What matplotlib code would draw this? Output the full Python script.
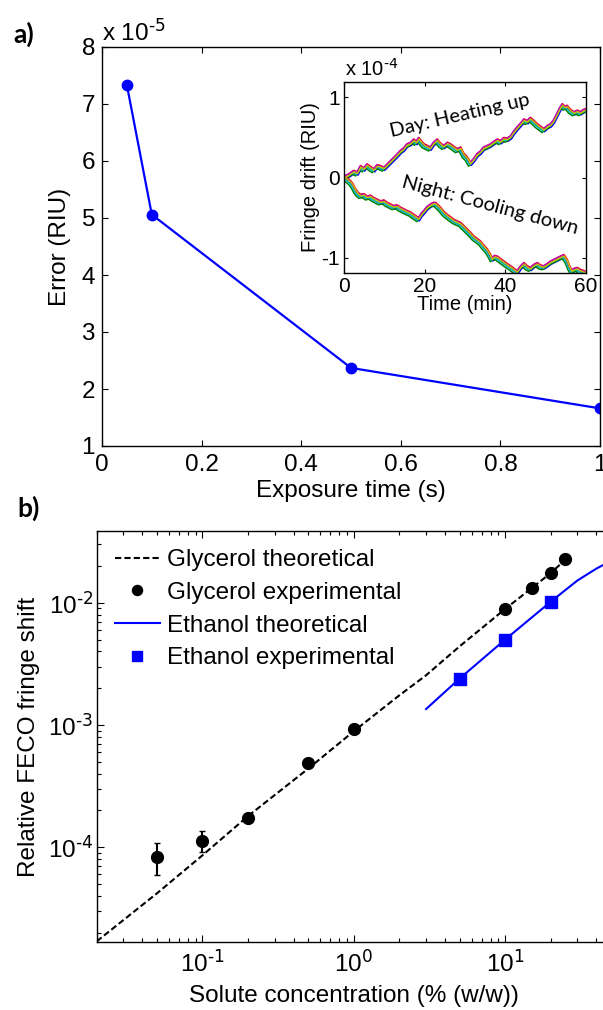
import numpy as np
import matplotlib
matplotlib.use("Agg")
from matplotlib import pyplot as plt
from matplotlib.ticker import FuncFormatter, LogLocator, NullFormatter, MultipleLocator

# ---- a) error vs exposure time (error in units of 1e-5 RIU)
exposure_s = [0.05, 0.1, 0.5, 1.0]
error_e5 = [7.33, 5.06, 2.37, 1.66]

# ---- inset: fringe drift over one hour (units of 1e-4 RIU)
day_t = [0, 1.2, 2.3, 3.2, 4, 4.8, 5.6, 6.4, 7.3, 8.1, 8.9, 9.8, 10.6, 11.4, 12.2, 13.0, 13.9,
         14.7, 15.5, 16.4, 17.2, 17.8, 18.4, 19.0, 19.7, 20.5, 21.3, 22.1, 23.0, 23.8, 24.6,
         25.5, 26.3, 27.1, 27.9, 28.8, 29.6, 30.4, 31.2, 32.1, 32.9, 33.7, 34.5, 35.4, 36.2,
         37.0, 37.9, 38.7, 39.5, 40.3, 41.2, 42.0, 42.8, 43.7, 44.5, 45.3, 46.1, 47.0, 47.8,
         48.6, 49.4, 50.3, 51.1, 51.9, 52.7, 53.4, 54.0, 54.6, 55.2, 56.0, 56.9, 57.7, 58.5,
         59.3, 60]
day_drift = [0.0, 0.03, 0.07, 0.05, 0.13, 0.1, 0.15, 0.12, 0.09, 0.14, 0.13, 0.11, 0.15, 0.19,
             0.23, 0.27, 0.32, 0.35, 0.4, 0.42, 0.46, 0.43, 0.48, 0.44, 0.4, 0.38, 0.36, 0.42,
             0.46, 0.41, 0.38, 0.42, 0.4, 0.37, 0.34, 0.36, 0.28, 0.24, 0.17, 0.22, 0.28, 0.31,
             0.36, 0.38, 0.4, 0.43, 0.46, 0.44, 0.48, 0.47, 0.5, 0.56, 0.61, 0.66, 0.71, 0.69,
             0.73, 0.69, 0.65, 0.62, 0.59, 0.63, 0.65, 0.7, 0.78, 0.85, 0.9, 0.87, 0.88, 0.83,
             0.8, 0.82, 0.8, 0.83, 0.84]
night_t = [0, 0.8, 1.5, 2.1, 2.7, 3.3, 4, 4.8, 5.6, 6.4, 7.3, 8.1, 8.9, 9.8, 10.6, 11.4, 12.2,
           13.0, 13.9, 14.7, 15.5, 16.4, 17.2, 17.8, 18.4, 19.0, 19.7, 20.5, 21.3, 22.0, 22.6,
           23.2, 23.8, 24.6, 25.5, 26.3, 27.1, 27.9, 28.8, 29.6, 30.4, 31.2, 32.1, 32.9, 33.7,
           34.5, 35.4, 36.0, 36.6, 37.2, 37.9, 38.7, 39.5, 40.3, 41.2, 42.0, 42.8, 43.7, 44.5,
           45.3, 46.1, 47.0, 47.8, 48.6, 49.4, 50.3, 51.1, 51.9, 52.7, 53.5, 54.4, 55.2, 55.8,
           56.4, 57.0, 57.7, 58.3, 58.8, 59.4, 60]
night_drift = [0.0, -0.03, -0.06, -0.1, -0.16, -0.2, -0.23, -0.22, -0.25, -0.24, -0.27, -0.29,
               -0.31, -0.3, -0.33, -0.35, -0.37, -0.36, -0.39, -0.41, -0.43, -0.45, -0.48,
               -0.5, -0.52, -0.47, -0.43, -0.38, -0.35, -0.33, -0.33, -0.36, -0.39, -0.44,
               -0.48, -0.51, -0.54, -0.56, -0.58, -0.62, -0.66, -0.7, -0.75, -0.78, -0.81,
               -0.86, -0.91, -0.96, -1.02, -0.99, -1.0, -1.03, -1.06, -1.09, -1.12, -1.15,
               -1.18, -1.12, -1.08, -1.12, -1.14, -1.1, -1.08, -1.11, -1.12, -1.09, -1.06,
               -1.04, -1.02, -1.0, -0.98, -1.04, -1.12, -1.17, -1.15, -1.14, -1.16, -1.17,
               -1.18, -1.2]
run_colors = [(0, 0, 1), (0, 0.5, 0), (1, 0, 0), (0, 0.75, 0.75), (0.75, 0, 0.75), (0.75, 0.75, 0)]
run_offsets = [-0.02, -0.03, 0.02, -0.01, 0.015, 0.0]
run_shifts = [0.3, -0.3, 0.15, -0.15, 0.0, 0.2]  # small time misalignment between runs (min)

# ---- b) FECO fringe shift vs solute concentration
gly_conc_theory = [0.02, 0.05, 0.1, 0.2, 0.5, 1, 2, 3, 5, 10, 15, 20, 25]
gly_shift_theory = [1.7e-5, 4.2e-5, 8.6e-5, 1.8e-4, 4.4e-4, 8.9e-4, 1.75e-3, 2.55e-3,
                    4.4e-3, 8.9e-3, 1.32e-2, 1.75e-2, 2.25e-2]
gly_conc_exp = [0.05, 0.1, 0.2, 0.5, 1, 10, 15, 20, 25]
gly_shift_exp = [8.4e-5, 1.13e-4, 1.75e-4, 4.86e-4, 9.2e-4, 8.9e-3, 1.31e-2, 1.76e-2, 2.29e-2]
gly_err_low = [5.9e-5, 9.2e-5, 1.75e-4, 4.86e-4, 9.2e-4, 8.9e-3, 1.31e-2, 1.76e-2, 2.29e-2]
gly_err_high = [1.08e-4, 1.36e-4, 1.75e-4, 4.86e-4, 9.2e-4, 8.9e-3, 1.31e-2, 1.76e-2, 2.29e-2]
eth_conc_theory = [3, 5, 10, 20, 30, 40, 50]
eth_shift_theory = [1.35e-3, 2.4e-3, 5.0e-3, 1.02e-2, 1.52e-2, 1.9e-2, 2.2e-2]
eth_conc_exp = [5, 10, 20]
eth_shift_exp = [2.38e-3, 5.0e-3, 1.02e-2]

plt.rcParams['font.family'] = ['Liberation Sans', 'DejaVu Sans']
plt.rcParams['mathtext.default'] = 'regular'
plt.rcParams['axes.unicode_minus'] = False
plt.rcParams['axes.linewidth'] = 1.0

W, H = 603, 1010
fig = plt.figure(figsize=(W / 100, H / 100), dpi=100)


def px_axes(x0, y0, x1, y1):
    return fig.add_axes([x0 / W, 1 - y1 / H, (x1 - x0) / W, (y1 - y0) / H])


def matlab_ticks(ax, size, pad, major=4, minor=2.5):
    ax.tick_params(which='both', direction='in', top=True, right=True, width=0.8,
                   labelsize=size, pad=pad)
    ax.tick_params(which='major', length=major)
    ax.tick_params(which='minor', length=minor)


gfmt = FuncFormatter(lambda v, p: '%g' % v)
logfmt = FuncFormatter(lambda v, p: r'$10^{\text{%d}}$' % round(np.log10(v)))

# ---------------- panel a
ax = px_axes(102, 47, 600, 446)
ax.plot(exposure_s, error_e5, '-o', color='blue', lw=1.6, ms=7.5)
ax.set_xlim(0, 1)
ax.set_ylim(1, 8)
ax.xaxis.set_major_locator(MultipleLocator(0.2))
ax.yaxis.set_major_locator(MultipleLocator(1))
ax.xaxis.set_major_formatter(gfmt)
ax.yaxis.set_major_formatter(gfmt)
matlab_ticks(ax, 17.5, 6)
ax.tick_params(axis='y', pad=5)
ax.set_xlabel('Exposure time (s)', fontsize=17.5)
ax.set_ylabel('Error (RIU)', fontsize=17.5)
ax.xaxis.set_label_coords(0.5, -0.085)
ax.yaxis.set_label_coords(-0.062, 0.5)
ax.text(0.0, 1.017, r'x 10$^{\text{-5}}$', transform=ax.transAxes, fontsize=17.5,
        ha='left', va='baseline')

# inset
ins = px_axes(344, 82, 586, 273)
for c, off, sh in zip(run_colors, run_offsets, run_shifts):
    ins.plot(np.array(day_t) + sh, np.array(day_drift) + off, color=c, lw=1.1)
    ins.plot(np.array(night_t) + sh, np.array(night_drift) + off, color=c, lw=1.1)
ins.set_xlim(0, 60)
ins.set_ylim(-1.19, 1.19)
ins.set_xticks([0, 20, 40, 60])
ins.set_yticks([-1, 0, 1])
ins.yaxis.set_major_formatter(gfmt)
matlab_ticks(ins, 15, 3, major=3)
ins.set_xlabel('Time (min)', fontsize=14.5)
ins.set_ylabel('Fringe drift (RIU)', fontsize=14.5)
ins.xaxis.set_label_coords(0.5, -0.115)
ins.yaxis.set_label_coords(-0.1, 0.5)
ins.text(0.005, 1.03, r'x 10$^{\text{-4}}$', transform=ins.transAxes, fontsize=14.5,
         ha='left', va='baseline')
ins.text(28.8, 0.77, 'Day: Heating up', family='Lato', fontsize=14.5, rotation=13,
         ha='center', va='center')
ins.text(36.2, -0.35, 'Night: Cooling down', family='Lato', fontsize=14.5, rotation=-15,
         ha='center', va='center')

# ---------------- panel b
bx = px_axes(96.7, 531, 611, 942)
bx.plot(gly_conc_theory, gly_shift_theory, '--', color='black', lw=1.5, dashes=(3, 1.5),
        label='Glycerol theoretical')
yerr = [np.array(gly_shift_exp) - np.array(gly_err_low),
        np.array(gly_err_high) - np.array(gly_shift_exp)]
bx.errorbar(gly_conc_exp, gly_shift_exp, yerr=yerr, fmt='none', ecolor='black',
            elinewidth=1.5, capsize=2)
bx.plot(gly_conc_exp, gly_shift_exp, 'o', color='black', ms=8.5,
        label='Glycerol experimental')
bx.plot(eth_conc_theory, eth_shift_theory, '-', color='blue', lw=1.5,
        label='Ethanol theoretical')
bx.plot(eth_conc_exp, eth_shift_exp, 's', color='blue', ms=8.5,
        label='Ethanol experimental')
bx.set_xscale('log')
bx.set_yscale('log')
bx.set_xlim(0.02, 50)
bx.set_ylim(1.68e-5, 3.86e-2)
bx.xaxis.set_major_locator(LogLocator(base=10, numticks=10))
bx.yaxis.set_major_locator(LogLocator(base=10, numticks=10))
bx.xaxis.set_minor_locator(LogLocator(base=10, subs=np.arange(2, 10), numticks=20))
bx.yaxis.set_minor_locator(LogLocator(base=10, subs=np.arange(2, 10), numticks=20))
bx.xaxis.set_major_formatter(logfmt)
bx.yaxis.set_major_formatter(logfmt)
bx.xaxis.set_minor_formatter(NullFormatter())
bx.yaxis.set_minor_formatter(NullFormatter())
matlab_ticks(bx, 17.5, 6, major=5, minor=3)
bx.tick_params(axis='y', pad=2.5)
bx.set_xlabel('Solute concentration (% (w/w))', fontsize=17.5)
bx.set_ylabel('Relative FECO fringe shift', fontsize=17.5)
bx.xaxis.set_label_coords(0.5, -0.105)
bx.yaxis.set_label_coords(-0.11, 0.5)
bx.legend(loc='upper left', frameon=False, fontsize=17.5, handlelength=1.85,
          handletextpad=0.28, labelspacing=0.44, borderaxespad=0.3, borderpad=0.45,
          markerscale=0.85)

fig.text(13 / W, 1 - 43 / H, 'a)', family='Lato', fontweight='bold', fontsize=19,
         ha='left', va='baseline')
fig.text(17 / W, 1 - 517 / H, 'b)', family='Lato', fontweight='bold', fontsize=19,
         ha='left', va='baseline')

fig.savefig('out.png', dpi=100)
